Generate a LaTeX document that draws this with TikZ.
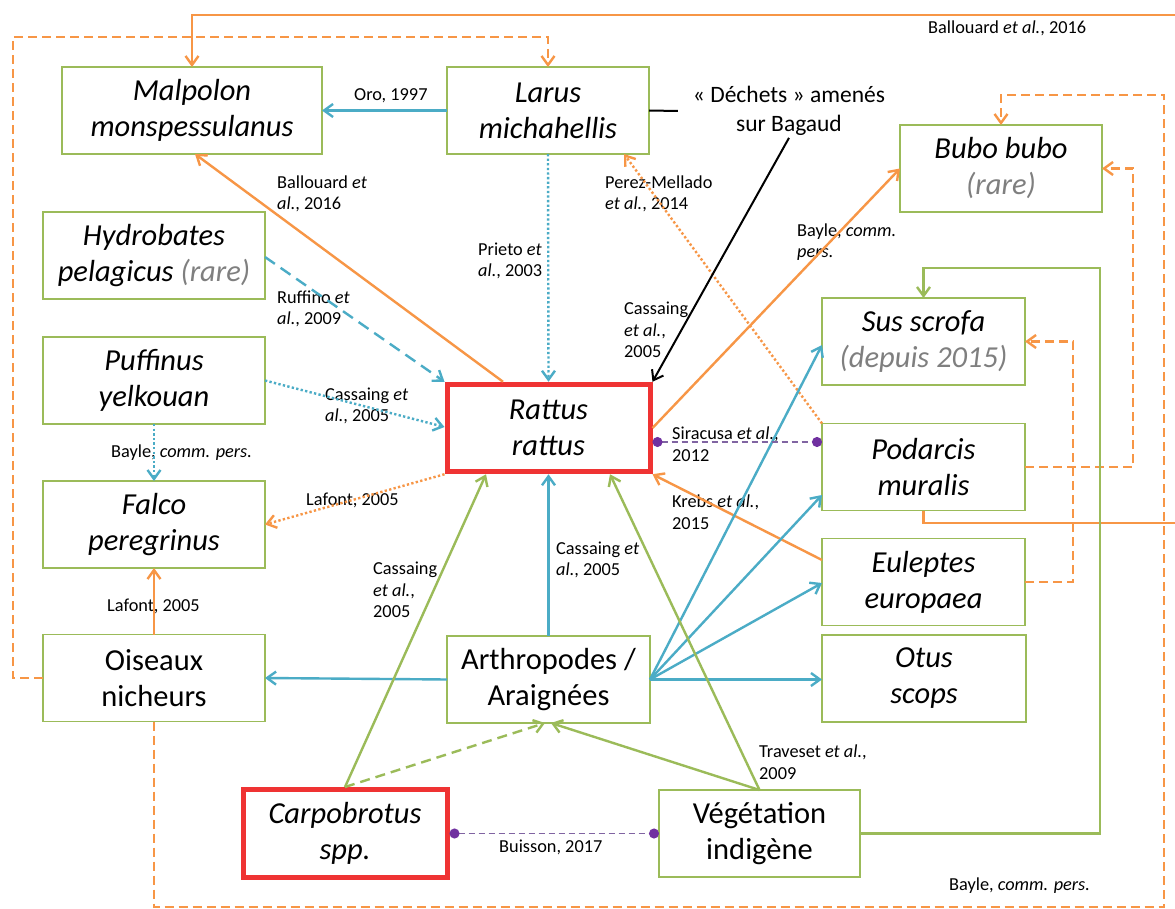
\documentclass[tikz,border=0pt]{standalone}
\usepackage{fontspec}
\setmainfont{Carlito}
\usetikzlibrary{arrows.meta,backgrounds}
\definecolor{boxgreen}{HTML}{9BBB59}
\definecolor{lorange}{HTML}{F79646}
\definecolor{lblue}{HTML}{4BACC6}
\definecolor{boxred}{HTML}{EF3333}
\definecolor{lpurple}{HTML}{8064A2}
\definecolor{dpurple}{HTML}{7030A0}
\definecolor{txtgray}{HTML}{7F7F7F}
\begin{document}
\begin{tikzpicture}[x=1pt,y=-1pt,
  box/.style={draw=boxgreen,line width=1.6pt,fill=white,align=center,inner sep=0pt,outer sep=0pt,
    minimum width=202pt,minimum height=87pt,font=\fontsize{30.5}{36}\selectfont},
  ibox/.style={box,font=\fontsize{30.5}{36}\selectfont\itshape},
  redbox/.style={ibox,draw=boxred,line width=5pt,outer sep=2.5pt},
  lab/.style={font=\fontsize{18.3}{21.5}\selectfont,align=left,inner sep=0pt,anchor=west},
  tip/.style={-{Straight Barb[length=9pt,width=13pt]}},
  conn/.style={line width=2.4pt},
  oline/.style={conn,draw=lorange},
  bline/.style={conn,draw=lblue},
  gline/.style={conn,draw=boxgreen},
  odash/.style={oline,dash pattern=on 9pt off 5pt},
  bdash/.style={bline,dash pattern=on 12pt off 7pt},
  gdash/.style={gline,dash pattern=on 10pt off 6pt},
  dots/.style={dash pattern=on 2.3pt off 2.3pt},
  pline/.style={draw=lpurple,line width=1.7pt,dash pattern=on 6pt off 4pt,
    {Circle[length=10pt,color=dpurple]}-{Circle[length=10pt,color=dpurple]}},
  kline/.style={draw=black,line width=2pt}
]
\useasboundingbox (0,0) rectangle (1175,909);
\fill[white] (0,0) rectangle (1175,909);

% nodes
\node[ibox,minimum width=260pt] (mal) at (192,110.5) {Malpolon\\monspessulanus};
\node[ibox] (lar) at (548,110.5) {Larus\\michahellis};
\node[ibox] (bub) at (1001,168.5) {Bubo bubo\\\textcolor{txtgray}{(rare)}};
\node[ibox,minimum width=222pt] (hyd) at (154,255.5) {Hydrobates\\pelagicus \textcolor{txtgray}{(rare)}};
\node[ibox,minimum width=203pt] (sus) at (923.5,341.5) {Sus scrofa\\\textcolor{txtgray}{(depuis 2015)}};
\node[ibox,minimum width=222pt] (puf) at (154,380.5) {Puffinus\\yelkouan};
\node[redbox,minimum width=203pt,minimum height=87.5pt] (rat) at (548.5,428) {Rattus\\rattus};
\node[ibox,minimum width=203pt] (pod) at (923.5,467) {Podarcis\\muralis};
\node[ibox,minimum width=222pt] (fal) at (154,524.5) {Falco\\peregrinus};
\node[ibox,minimum width=203pt] (eul) at (923.5,582) {Euleptes\\europaea};
\node[box,minimum width=222pt] (ois) at (154,678) {Oiseaux\\nicheurs};
\node[box,minimum width=203pt] (art) at (548.5,679.5) {Arthropodes /\\Araignées};
\node[ibox,minimum width=204pt] (otu) at (924,678.5) {Otus\\scops};
\node[redbox,minimum width=204pt,minimum height=88pt] (car) at (345,833.5) {Carpobrotus\\spp.};
\node[box,minimum width=201pt] (veg) at (759.5,833.5) {Végétation\\indigène};
\node[align=center,inner sep=2pt,font=\fontsize{23.5}{29}\selectfont] (dech) at (789,111) {«~Déchets~» amenés\\sur Bagaud};

% labels
\node[lab] (l1) at (354,96) {Oro, 1997};
\node[lab] (l2) at (928,28) {Ballouard \textit{et al.}, 2016};
\node[lab] (l3) at (277,194) {Ballouard \textit{et}\\\textit{al.}, 2016};
\node[lab] (l4) at (605,194) {Perez-Mellado\\\textit{et al.}, 2014};
\node[lab] (l5) at (478,261) {Prieto \textit{et}\\\textit{al.}, 2003};
\node[lab] (l6) at (797,242) {Bayle, \textit{comm.}\\\textit{pers.}};
\node[lab] (l7) at (277,309) {Ruffino \textit{et}\\\textit{al.}, 2009};
\node[lab] (l8) at (624,330) {Cassaing\\\textit{et al.},\\2005};
\node[lab] (l9) at (325,406) {Cassaing \textit{et}\\\textit{al.}, 2005};
\node[lab] (l10) at (672,444) {Siracusa \textit{et al.},\\2012};
\node[lab] (l11) at (111,453) {Bayle, \textit{comm. pers.}};
\node[lab] (l12) at (306,500) {Lafont, 2005};
\node[lab] (l13) at (672,512) {Krebs \textit{et al.},\\2015};
\node[lab] (l14) at (556,560) {Cassaing \textit{et}\\\textit{al.}, 2005};
\node[lab] (l15) at (373,590) {Cassaing\\\textit{et al.},\\2005};
\node[lab] (l16) at (107,606) {Lafont, 2005};
\node[lab] (l17) at (759,762) {Traveset \textit{et al.},\\2009};
\node[lab] (l18) at (499,847) {Buisson, 2017};
\node[lab] (l19) at (949,886) {Bayle, \textit{comm. pers.}};

% hidden connector behind Podarcis
\begin{pgfonlayer}{background}
\draw[odash,tip] (eul.north) -- (sus.south);
\end{pgfonlayer}

% orange
\draw[oline,tip] (pod.south) |- (1180,523) -- (1180,15) -| (mal.north);
\draw[odash,tip] (ois.west) -| (13,37) -| (lar.north);
\draw[odash,tip] (ois.south) |- (1164,907) -- (1164,95) -| (bub.north);
\draw[odash,tip] (pod.east) -| (1133,168.5) -- (bub.east);
\draw[odash,tip] (eul.east) -| (1073,341.5) -- (sus.east);
\draw[oline,tip] (rat.north -| 503,0) -- (mal.south -| 195,0);
\draw[oline,tip] (rat.east) -- (bub.west);
\draw[oline,tip] (eul.west |- 0,560) -- (rat.south east);
\draw[oline,dots,tip] (pod.north west) -- (lar.south -| 624,0);
\draw[oline,dots,tip] (rat.south west) -- (fal.east);
\draw[oline,tip] (ois.north) -- (fal.south);

% blue
\draw[bline,tip] (lar.west) -- (mal.east);
\draw[bline,dots,tip] (lar.south) -- (rat.north);
\draw[bdash,tip] (hyd.east |- 0,257) -- (rat.north west);
\draw[bline,dots,tip] (puf.east) -- (rat.west |- 0,427);
\draw[bline,dots,tip] (puf.south) -- (fal.north);
\draw[bline,tip] (art.north) -- (rat.south);
\draw[bline,tip] (art.west) -- (ois.east);
\draw[bline,tip] (art.east) -- (sus.west |- 0,345);
\draw[bline,tip] (art.east) -- (pod.west |- 0,495);
\draw[bline,tip] (art.east) -- (eul.west |- 0,583);
\draw[bline,tip] (art.east) -- (otu.west |- 0,679.5);

% green
\draw[gline,tip] (car.north) -- (rat.south -| 486,0);
\draw[gdash,tip] (car.north) -- (art.south -| 545,0);
\draw[gline,tip] (veg.north) -- (rat.south -| 610,0);
\draw[gline,tip] (veg.north) -- (art.south -| 551,0);
\draw[gline,tip] (veg.east) -| (1100,268) -| (sus.north);

% purple
\draw[pline] (rat.east |- 0,442) -- (pod.west |- 0,442);
\draw[pline] (car.east) -- (veg.west);

% black
\draw[kline] (lar.east) -- ([xshift=-13pt]dech.west);
\draw[kline,tip] (dech.south) -- (rat.north east);
\end{tikzpicture}
\end{document}
